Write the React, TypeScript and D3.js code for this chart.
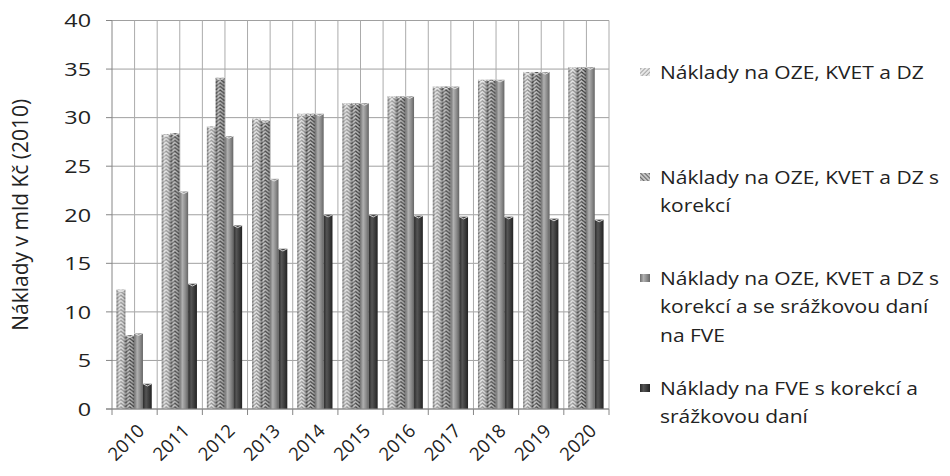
import React from "react";
import * as d3 from "d3";

const years = ["2010", "2011", "2012", "2013", "2014", "2015", "2016", "2017", "2018", "2019", "2020"];
const seriesNames = [
  ["Náklady na OZE, KVET a DZ"],
  ["Náklady na OZE, KVET a DZ s", "korekcí"],
  ["Náklady na OZE, KVET a DZ s", "korekcí a se srážkovou daní", "na FVE"],
  ["Náklady na FVE s korekcí a", "srážkovou daní"],
];
const costsBase = [12.3, 28.3, 29.1, 29.9, 30.4, 31.5, 32.2, 33.2, 33.9, 34.7, 35.2];
const costsCorrected = [7.6, 28.4, 34.1, 29.7, 30.4, 31.5, 32.2, 33.2, 33.9, 34.7, 35.2];
const costsCorrectedTax = [7.8, 22.4, 28.1, 23.7, 30.4, 31.5, 32.2, 33.2, 33.9, 34.7, 35.2];
const costsPvTax = [2.6, 12.9, 18.9, 16.5, 20.0, 20.0, 19.9, 19.8, 19.8, 19.6, 19.5];
const yTicks = [0, 5, 10, 15, 20, 25, 30, 35, 40];
const yTitle = "Náklady v mld Kč (2010)";

const allSeries = [costsBase, costsCorrected, costsCorrectedTax, costsPvTax];

const W = 950;
const H = 476;
const plotLeft = 112;
const plotRight = 609;
const plotTop = 20.5;
const plotBottom = 409;
const FONT = "'Open Sans', sans-serif";

export default function App() {
  const x = d3.scaleBand<string>().domain(years).range([plotLeft, plotRight]).padding(0);
  const step = x.step();
  const inner = d3
    .scaleBand<number>()
    .domain([0, 1, 2, 3])
    .range([step * 0.1, step * 0.88])
    .padding(0);
  const y = d3.scaleLinear().domain([0, 40]).range([plotBottom, plotTop]);

  // vertical grid at category edges and centres
  const vGrid: number[] = [];
  years.forEach((yr) => {
    vGrid.push(x(yr)! + step / 2);
    vGrid.push(x(yr)! + step);
  });

  const bars = allSeries.flatMap((vals, si) =>
    vals.map((v, i) => ({
      si,
      i,
      x: x(years[i])! + inner(si)!,
      w: inner.bandwidth(),
      y: y(v),
      h: y(0) - y(v),
    }))
  );

  const hatchStyles = [
    { bg: "#e4e4e4", stroke: "#888" },
    { bg: "#bdbdbd", stroke: "#383838" },
  ];

  const legendTop = [72, 177, 278, 388];
  const lineH = 28.7;

  return (
    <svg width={W} height={H} style={{ position: "absolute", left: 0, top: 0, background: "#fff" }}>
      <defs>
        {bars
          .filter((b) => b.si < 2)
          .map((b) => {
            const st = hatchStyles[b.si];
            const ph = 3.6;
            return (
              <pattern
                key={`p${b.si}-${b.i}`}
                id={`chev${b.si}-${b.i}`}
                patternUnits="userSpaceOnUse"
                x={b.x}
                y={0}
                width={b.w}
                height={ph}
              >
                <rect width={b.w} height={ph} fill={st.bg} />
                <path
                  d={`M0,${ph} L${b.w / 2},0 L${b.w},${ph} M0,${ph * 2} L${b.w / 2},${ph} L${b.w},${ph * 2} M0,0 L${b.w / 2},${-ph} L${b.w},0`}
                  fill="none"
                  stroke={st.stroke}
                  strokeWidth={1.3}
                />
              </pattern>
            );
          })}
        <linearGradient id="cyl" x1="0" x2="1" y1="0" y2="0">
          <stop offset="0" stopColor="#000" stopOpacity={0.28} />
          <stop offset="0.3" stopColor="#fff" stopOpacity={0.3} />
          <stop offset="0.6" stopColor="#fff" stopOpacity={0} />
          <stop offset="1" stopColor="#000" stopOpacity={0.35} />
        </linearGradient>
        <linearGradient id="solid3" x1="0" x2="1" y1="0" y2="0">
          <stop offset="0" stopColor="#6e6e6e" />
          <stop offset="0.35" stopColor="#b0b0b0" />
          <stop offset="0.7" stopColor="#8a8a8a" />
          <stop offset="1" stopColor="#656565" />
        </linearGradient>
        <linearGradient id="solid4" x1="0" x2="1" y1="0" y2="0">
          <stop offset="0" stopColor="#2a2a2a" />
          <stop offset="0.35" stopColor="#555" />
          <stop offset="0.7" stopColor="#3a3a3a" />
          <stop offset="1" stopColor="#222" />
        </linearGradient>
        <pattern id="leg0" patternUnits="userSpaceOnUse" width={3} height={3} patternTransform="rotate(45)">
          <rect width={3} height={3} fill="#e6e6e6" />
          <line x1={0} y1={0} x2={0} y2={3} stroke="#8a8a8a" strokeWidth={1.4} />
        </pattern>
        <pattern id="leg1" patternUnits="userSpaceOnUse" width={3} height={3} patternTransform="rotate(-45)">
          <rect width={3} height={3} fill="#c4c4c4" />
          <line x1={0} y1={0} x2={0} y2={3} stroke="#3a3a3a" strokeWidth={1.4} />
        </pattern>
      </defs>

      {/* horizontal gridlines */}
      {yTicks.map((t) => (
        <line key={`h${t}`} x1={plotLeft} x2={plotRight} y1={y(t)} y2={y(t)} stroke="#a0a0a0" strokeWidth={1} />
      ))}
      {/* vertical gridlines */}
      {vGrid.map((gx, k) => (
        <line key={`v${k}`} x1={gx} x2={gx} y1={plotTop} y2={plotBottom} stroke="#ababab" strokeWidth={1} />
      ))}

      {/* bars */}
      {bars.map((b) => {
        const fill =
          b.si < 2 ? `url(#chev${b.si}-${b.i})` : b.si === 2 ? "url(#solid3)" : "url(#solid4)";
        return (
          <g key={`b${b.si}-${b.i}`}>
            <rect x={b.x} y={b.y} width={b.w} height={b.h} fill={fill} />
            {b.si < 2 && <rect x={b.x} y={b.y} width={b.w} height={b.h} fill="url(#cyl)" />}
            <path
              d={`M${b.x},${b.y} L${b.x + b.w / 2},${b.y + 2.2} L${b.x + b.w},${b.y}`}
              fill="none"
              stroke="#f2f2f2"
              strokeOpacity={0.8}
              strokeWidth={1}
            />
          </g>
        );
      })}

      {/* axes */}
      <line x1={plotLeft} x2={plotLeft} y1={plotTop} y2={plotBottom} stroke="#868686" />
      <line x1={plotLeft - 6} x2={plotRight} y1={plotBottom} y2={plotBottom} stroke="#868686" />
      {yTicks.map((t) => (
        <g key={`yt${t}`}>
          <line x1={plotLeft - 6} x2={plotLeft} y1={y(t)} y2={y(t)} stroke="#868686" />
          <text
            transform={`translate(${plotLeft - 21},${y(t)}) scale(1.23,1)`}
            dy="0.36em"
            textAnchor="end"
            fontFamily={FONT}
            fontSize={19}
            fill="#222"
          >
            {t}
          </text>
        </g>
      ))}
      {d3.range(years.length + 1).map((k) => {
        const tx = plotLeft + k * step;
        return <line key={`xt${k}`} x1={tx} x2={tx} y1={plotBottom} y2={plotBottom + 6} stroke="#868686" />;
      })}
      {years.map((yr) => {
        const cx = x(yr)! + step / 2;
        return (
          <text
            key={`xl${yr}`}
            transform={`translate(${cx + 11},${plotBottom + 23}) rotate(-45)`}
            textAnchor="end"
            fontFamily={FONT}
            fontSize={18.5}
            fill="#222"
          >
            {yr}
          </text>
        );
      })}

      <text
        transform={`translate(28,${(plotTop + plotBottom) / 2 + 0}) scale(1.08,1) rotate(-90)`}
        textAnchor="middle"
        fontFamily={FONT}
        fontSize={21}
        fill="#222"
      >
        {yTitle}
      </text>

      {/* legend */}
      {seriesNames.map((lines, si) => {
        const cy = legendTop[si];
        const markFill =
          si === 0 ? "url(#leg0)" : si === 1 ? "url(#leg1)" : si === 2 ? "url(#solid3)" : "url(#solid4)";
        return (
          <g key={`lg${si}`}>
            <rect x={640} y={cy - 4} width={10} height={8} fill={markFill} />
            {lines.map((ln, li) => (
              <text
                key={li}
                transform={`translate(660,${cy + li * lineH + 6.5}) scale(1.13,1)`}
                fontFamily={FONT}
                fontSize={18.6}
                fill="#222"
              >
                {ln}
              </text>
            ))}
          </g>
        );
      })}
    </svg>
  );
}
